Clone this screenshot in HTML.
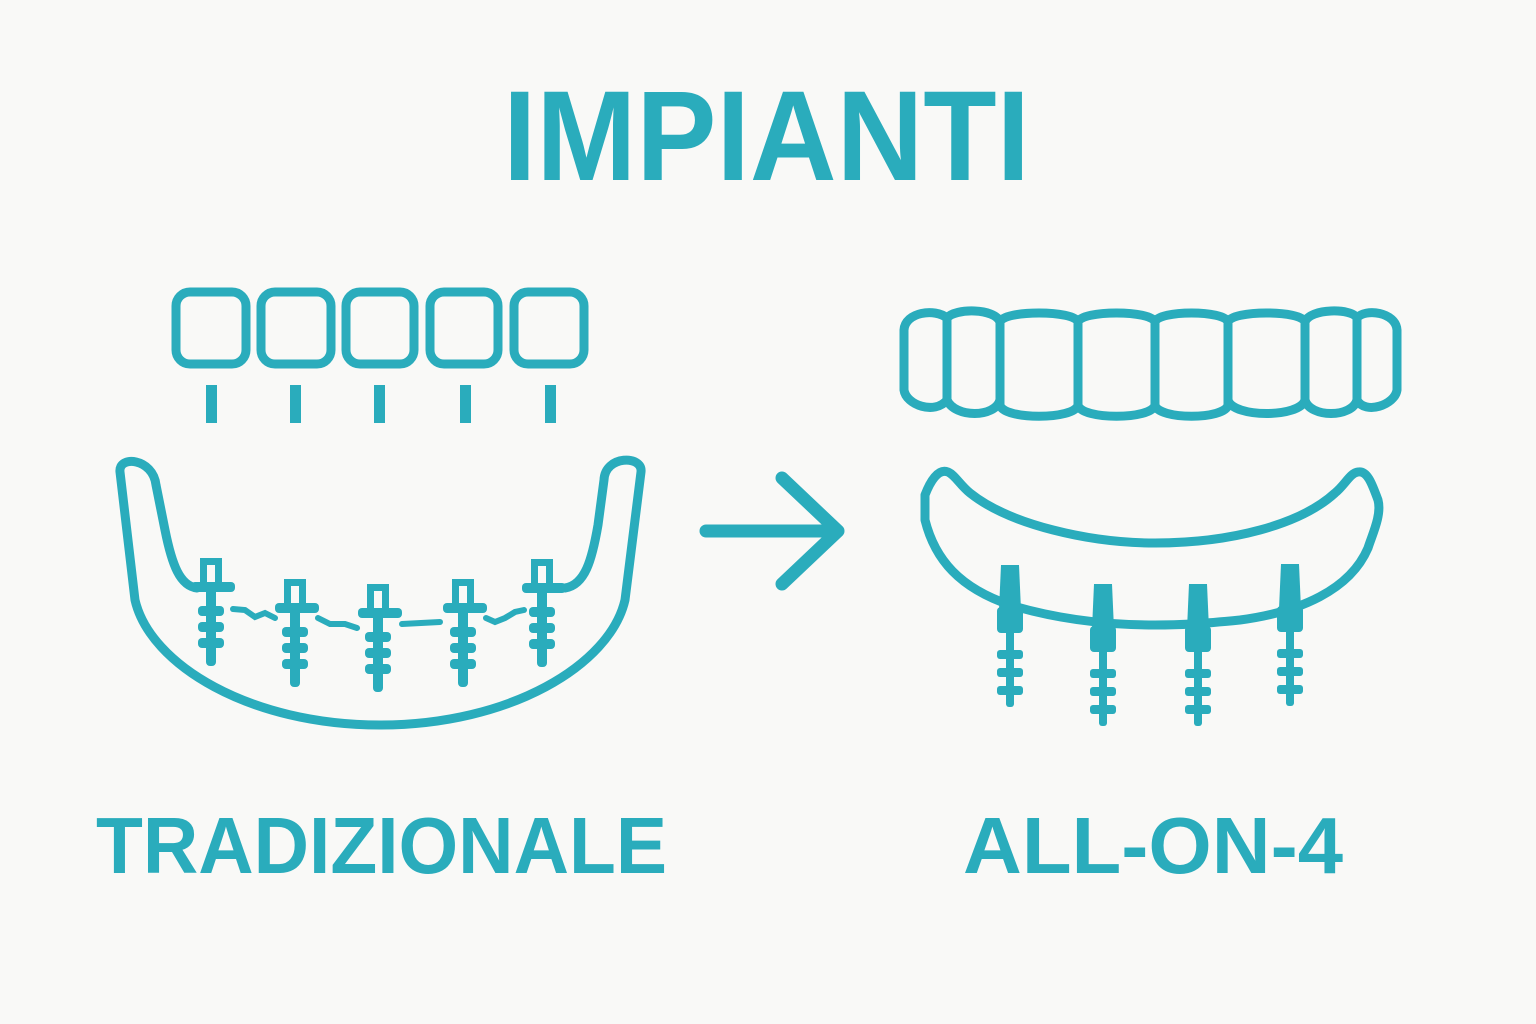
<!DOCTYPE html>
<html><head><meta charset="utf-8"><style>
html,body{margin:0;padding:0;background:#f9f9f7;}
svg{display:block}
</style></head><body>
<svg width="1536" height="1024" viewBox="0 0 1536 1024" xmlns="http://www.w3.org/2000/svg">
<defs>
<g id="li">
<path d="M-11,-30 h22 v26 h-22 z M-4,-23 v19 h8 v-19 z" fill-rule="evenodd"/>
<rect x="-20" y="-6" width="44" height="10" rx="4"/>
<rect x="-5" y="0" width="10" height="78" rx="4"/>
<rect x="-13" y="18" width="26" height="10" rx="4"/>
<rect x="-13" y="34" width="26" height="10" rx="4"/>
<rect x="-13" y="50" width="26" height="10" rx="4"/>
</g>
<g id="ri">
<path d="M-9,0 h18 l2,45 h-22 z"/>
<rect x="-13" y="42" width="26" height="26" rx="4"/>
<rect x="-4" y="60" width="8" height="82" rx="3"/>
<rect x="-13" y="85" width="26" height="9" rx="3"/>
<rect x="-13" y="103" width="26" height="9" rx="3"/>
<rect x="-13" y="121" width="26" height="9" rx="3"/>
</g>
</defs>
<rect width="1536" height="1024" fill="#f9f9f7"/>
<g fill="#2aacbc" font-family="Liberation Sans, sans-serif" font-weight="bold">
<text x="503" y="180" font-size="128" textLength="527" lengthAdjust="spacingAndGlyphs">IMPIANTI</text>
<text x="96" y="873" font-size="80" textLength="571" lengthAdjust="spacingAndGlyphs">TRADIZIONALE</text>
<text x="963" y="873" font-size="80" textLength="380" lengthAdjust="spacingAndGlyphs">ALL-ON-4</text>
</g>
<g fill="none" stroke="#2aacbc" stroke-width="9" stroke-linejoin="round" stroke-linecap="round">
<rect x="176" y="292" width="70" height="72" rx="14"/>
<rect x="261" y="292" width="70" height="72" rx="14"/>
<rect x="346" y="292" width="68" height="72" rx="14"/>
<rect x="430" y="292" width="68" height="72" rx="14"/>
<rect x="514" y="292" width="70" height="72" rx="14"/>
<path d="M197,588 C180,586 172,565 165,530 L156,485 C153,458 118,455 120,472 L135,600 C150,665 250,725 380,725 C510,725 610,665 625,600 L641,472 C643,455 605,455 604,480 L598,525 C592,560 585,585 565,588"/>
<path d="M706,531 L838,531 M782,478 L838,531 L782,584" stroke-width="13"/>
<path d="M947,318 C935,308 905,312 904,330 L904,390 C906,405 935,415 947,400 Z"/>
<path d="M947,318 C955,308 995,308 1000,322 L1000,400 C995,418 955,418 947,400 Z"/>
<path d="M1000,322 C1003,310 1075,310 1078,322 L1078,405 C1075,420 1003,420 1000,405 Z"/>
<path d="M1078,322 C1081,310 1152,310 1155,322 L1155,405 C1152,420 1081,420 1078,405 Z"/>
<path d="M1155,322 C1158,310 1225,310 1228,322 L1228,405 C1225,420 1158,420 1155,405 Z"/>
<path d="M1228,322 C1231,310 1302,310 1305,322 L1305,400 C1300,418 1233,418 1228,400 Z"/>
<path d="M1305,322 C1310,308 1352,308 1357,318 L1357,400 C1352,418 1310,418 1305,400 Z"/>
<path d="M1357,318 C1365,308 1396,312 1397,330 L1397,390 C1395,405 1365,415 1357,400 Z"/>
<path d="M925,495 C930,482 938,468 948,472 C955,475 960,485 970,493 C1010,525 1090,543 1155,543 C1230,543 1300,525 1335,493 C1345,485 1350,473 1358,472 C1368,470 1373,487 1378,500 C1382,515 1372,535 1368,548 C1350,590 1300,612 1240,620 C1200,624 1180,625 1155,625 C1110,625 1060,620 1010,605 C960,588 935,560 925,520 Z"/>
</g>
<g fill="#2aacbc">
<use href="#li" transform="translate(211,588)"/>
<use href="#li" transform="translate(295,609)"/>
<use href="#li" transform="translate(378,614)"/>
<use href="#li" transform="translate(463,609)"/>
<use href="#li" transform="translate(542,589)"/>
<use href="#ri" transform="translate(1010,565)"/>
<use href="#ri" transform="translate(1103,584)"/>
<use href="#ri" transform="translate(1198,584)"/>
<use href="#ri" transform="translate(1290,564)"/>
<rect x="206" y="385" width="11" height="38"/>
<rect x="290" y="385" width="11" height="38"/>
<rect x="374" y="385" width="11" height="38"/>
<rect x="460" y="385" width="11" height="38"/>
<rect x="545" y="385" width="11" height="38"/>
</g>
<g fill="none" stroke="#2aacbc" stroke-width="6" stroke-linecap="round">
<path d="M233,609 L245,610 L255,617 L265,613 L275,618"/>
<path d="M318,618 L330,624 L345,624 L357,628"/>
<path d="M402,624 L440,622"/>
<path d="M486,618 L495,622 L505,618 L515,612 L524,610"/>
</g>
</svg>
</body></html>
